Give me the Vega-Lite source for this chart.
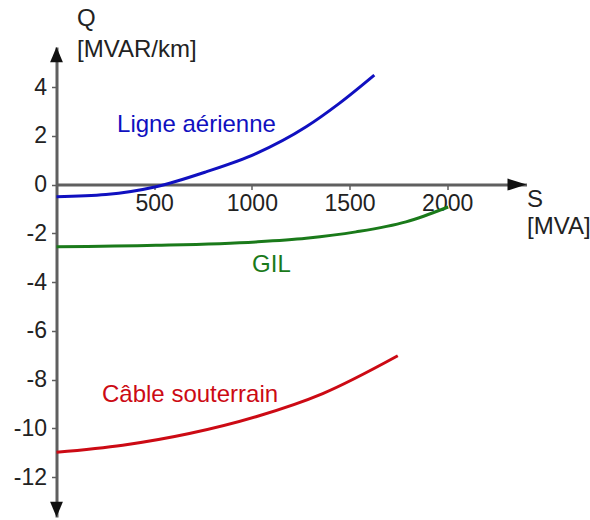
{
  "$schema": "https://vega.github.io/schema/vega-lite/v6.json",
  "width": 470,
  "height": 470,
  "autosize": {"type": "none"},
  "padding": {"left": 56.5, "top": 47, "right": 63.5, "bottom": 3},
  "background": "white",
  "config": {
    "view": {"stroke": null},
    "font": "Liberation Sans",
    "axis": {"labelFont": "Liberation Sans"}
  },
  "datasets": {
    "curves": [
      {"series": "Ligne aérienne", "S": 0, "Q": -0.5},
      {"series": "Ligne aérienne", "S": 253, "Q": -0.41},
      {"series": "Ligne aérienne", "S": 509, "Q": -0.09},
      {"series": "Ligne aérienne", "S": 765, "Q": 0.52},
      {"series": "Ligne aérienne", "S": 1021, "Q": 1.27},
      {"series": "Ligne aérienne", "S": 1278, "Q": 2.37},
      {"series": "Ligne aérienne", "S": 1446, "Q": 3.32},
      {"series": "Ligne aérienne", "S": 1627, "Q": 4.49},
      {"series": "GIL", "S": 0, "Q": -2.55},
      {"series": "GIL", "S": 509, "Q": -2.49},
      {"series": "GIL", "S": 1021, "Q": -2.35},
      {"series": "GIL", "S": 1278, "Q": -2.2},
      {"series": "GIL", "S": 1533, "Q": -1.94},
      {"series": "GIL", "S": 1789, "Q": -1.53},
      {"series": "GIL", "S": 2005, "Q": -0.92},
      {"series": "Câble souterrain", "S": 0, "Q": -10.98},
      {"series": "Câble souterrain", "S": 339, "Q": -10.69},
      {"series": "Câble souterrain", "S": 680, "Q": -10.21},
      {"series": "Câble souterrain", "S": 1021, "Q": -9.52},
      {"series": "Câble souterrain", "S": 1363, "Q": -8.57},
      {"series": "Câble souterrain", "S": 1747, "Q": -7.02}
    ],
    "labels": [
      {"series": "Ligne aérienne", "text": "Ligne aérienne", "S": 310, "Q": 2.15},
      {"series": "GIL", "text": "GIL", "S": 1001, "Q": -3.59},
      {"series": "Câble souterrain", "text": "Câble souterrain", "S": 233, "Q": -8.92},
      {"series": "axe", "text": "Q", "S": 105, "Q": 6.49},
      {"series": "axe", "text": "[MVAR/km]", "S": 105, "Q": 5.22},
      {"series": "axe", "text": "S", "S": 2409, "Q": -0.93},
      {"series": "axe", "text": "[MVA]", "S": 2409, "Q": -2.03}
    ],
    "arrows": [
      {"dir": "right", "S": 2406, "Q": 0},
      {"dir": "up", "S": 0, "Q": 5.64},
      {"dir": "down", "S": 0, "Q": -13.63}
    ]
  },
  "layer": [
    {
      "data": {"name": "curves"},
      "mark": {"type": "line", "strokeWidth": 3, "interpolate": "monotone", "clip": false},
      "encoding": {
        "x": {
          "field": "S", "type": "quantitative",
          "scale": {"domain": [0, 2406], "nice": false, "zero": false},
          "axis": {
            "orient": "bottom", "offset": -332.4, "values": [500, 1000, 1500, 2000],
            "labelExpr": "'' + datum.value",
            "title": null, "grid": false,
            "domainColor": "#5f5f5f", "domainWidth": 3,
            "tickColor": "#5f5f5f", "tickWidth": 1.5, "tickSize": 5,
            "labelFontSize": 23, "labelColor": "#222222", "labelPadding": 3
          }
        },
        "y": {
          "field": "Q", "type": "quantitative",
          "scale": {"domain": [-13.63, 5.64], "nice": false, "zero": false},
          "axis": {
            "values": [4, 2, 0, -2, -4, -6, -8, -10, -12],
            "labelExpr": "'' + datum.value",
            "title": null, "grid": false,
            "domainColor": "#5f5f5f", "domainWidth": 3,
            "tickColor": "#5f5f5f", "tickWidth": 1.5, "tickSize": 5,
            "labelFontSize": 23, "labelColor": "#222222", "labelPadding": 5
          }
        },
        "color": {
          "field": "series", "type": "nominal",
          "scale": {
            "domain": ["Ligne aérienne", "GIL", "Câble souterrain", "axe"],
            "range": ["#1010c0", "#1a7a1a", "#cc0a14", "#222222"]
          },
          "legend": null
        }
      }
    },
    {
      "data": {"name": "labels"},
      "mark": {"type": "text", "align": "left", "baseline": "alphabetic", "fontSize": 24, "font": "Liberation Sans"},
      "encoding": {
        "x": {"field": "S", "type": "quantitative"},
        "y": {"field": "Q", "type": "quantitative"},
        "text": {"field": "text"},
        "color": {"field": "series", "type": "nominal", "legend": null}
      }
    },
    {
      "data": {"name": "arrows"},
      "mark": {"type": "point", "filled": true, "opacity": 1, "color": "#111111", "size": 256, "clip": false},
      "encoding": {
        "x": {"field": "S", "type": "quantitative"},
        "y": {"field": "Q", "type": "quantitative"},
        "shape": {
          "field": "dir", "type": "nominal",
          "scale": {
            "domain": ["right", "up", "down"],
            "range": ["M-2.375,-0.75L0,0L-2.375,0.75Z", "M-0.8,1.9L0,0L0.8,1.9Z", "M-0.8,-1.9L0,0L0.8,-1.9Z"]
          },
          "legend": null
        }
      }
    }
  ]
}
